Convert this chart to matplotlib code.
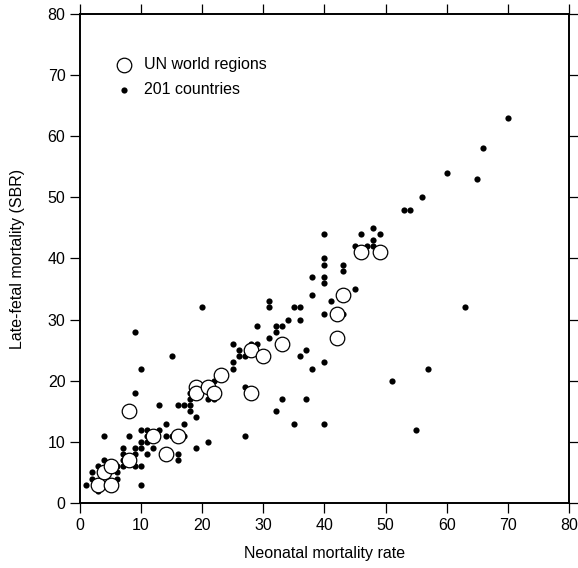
import matplotlib
matplotlib.use("Agg")
import matplotlib.pyplot as plt

plt.rcParams['font.family'] = ['Liberation Sans', 'DejaVu Sans']

# 201 countries: neonatal mortality rate vs late-fetal mortality (SBR)
country_nmr = [1, 2, 2, 3, 3, 4, 4, 6, 6, 6, 7, 7, 7, 7, 8, 9, 9, 9, 10, 10,
               10, 10, 10, 11, 11, 11, 11, 12, 13, 14, 14, 15, 16, 16, 17, 17,
               13, 16, 17, 18, 18, 18, 18, 19, 19, 21, 9, 10, 15, 9, 20, 21,
               22, 22, 25, 25, 25, 26, 26, 27, 27, 27, 28, 29, 29, 31, 31, 31,
               32, 32, 32, 33, 33, 34, 35, 35, 36, 36, 36, 37, 37, 38, 38, 38,
               40, 40, 40, 40, 40, 40, 40, 40, 41, 43, 43, 43, 45, 45, 46, 47,
               48, 48, 48, 49, 51, 53, 54, 55, 56, 57, 60, 63, 65, 66, 70]
country_sbr = [3, 4, 5, 2, 6, 7, 11, 4, 5, 6, 6, 7, 8, 9, 11, 6, 8, 9, 3, 6,
               9, 10, 12, 8, 10, 11, 12, 9, 12, 11, 13, 11, 7, 8, 11, 13,
               16, 16, 16, 15, 16, 17, 18, 14, 9, 10, 18, 22, 24, 28, 32, 17,
               17, 20, 22, 23, 26, 24, 25, 24, 19, 11, 26, 26, 29, 27, 32, 33,
               15, 28, 29, 17, 29, 30, 13, 32, 24, 30, 32, 17, 25, 22, 34, 37,
               13, 23, 31, 36, 37, 39, 40, 44, 33, 31, 38, 39, 35, 42, 44, 42,
               42, 43, 45, 44, 20, 48, 48, 12, 50, 22, 54, 32, 53, 58, 63]

# UN world regions
region_nmr = [3, 5, 4, 5, 8, 8, 12, 14, 16, 19, 19, 21, 22, 23, 28, 28, 30,
              33, 42, 42, 43, 46, 49]
region_sbr = [3, 3, 5, 6, 7, 15, 11, 8, 11, 19, 18, 19, 18, 21, 25, 18, 24,
              26, 31, 27, 34, 41, 41]

fig = plt.figure(figsize=(5.78, 5.68), dpi=100)
ax = fig.add_axes([0.1384, 0.1144, 0.8460, 0.8610])

ax.scatter(country_nmr, country_sbr, s=20, color='black', linewidths=0,
           zorder=2, label='201 countries')
ax.scatter(region_nmr, region_sbr, s=110, facecolor='white', edgecolor='black',
           linewidths=0.9, zorder=3, label='UN world regions')

ax.set_xlim(0, 80)
ax.set_ylim(0, 80)
ax.set_xticks(range(0, 81, 10))
ax.set_yticks(range(0, 81, 10))
ax.tick_params(direction='out', length=7, width=0.9, labelsize=11.5,
               top=True, right=True, colors='black')
for sp in ax.spines.values():
    sp.set_linewidth(1.4)

ax.set_xlabel('Neonatal mortality rate', fontsize=11.5, labelpad=10)
ax.set_ylabel('Late-fetal mortality (SBR)', fontsize=11.5, labelpad=16)

handles, labels = ax.get_legend_handles_labels()
ax.legend(handles[::-1], labels[::-1], loc='upper left',
          bbox_to_anchor=(0.027, 0.941), frameon=False, fontsize=11.5,
          handletextpad=0.3, labelspacing=0.6, scatterpoints=1)

fig.savefig('out.png', dpi=100)
